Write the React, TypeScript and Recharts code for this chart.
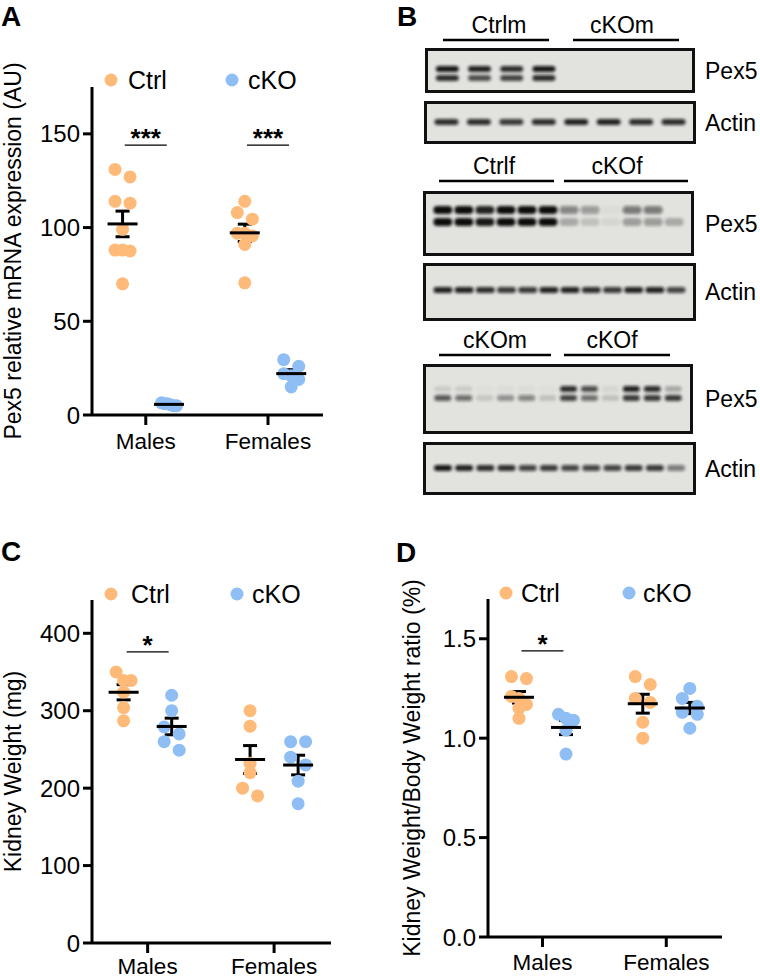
import React from 'react';
import { ScatterChart, Scatter, XAxis, YAxis, ErrorBar, Legend } from 'recharts';

const FONT = '"Liberation Sans", Arial, Helvetica, sans-serif';
const CTRL = '#FDBA78';
const CKO = '#8FBEF5';

const sexes = ['Males', 'Females'];
const genotypes = ['Ctrl', 'cKO'];

// A: Pex5 relative mRNA expression (AU)
const pex5MalesCtrl = [131, 127, 114, 113, 99, 88, 88, 87.5, 70];
const pex5MalesCko = [6.5, 6, 6, 5.5, 5, 5];
const pex5FemalesCtrl = [114, 108, 104.5, 97, 97, 95.5, 91, 70.5];
const pex5FemalesCko = [29.5, 26, 22, 21, 19, 15];
const pex5Ticks = [0, 50, 100, 150];
const pex5Sig = [
  { sex: 0, y: 144, label: '***' },
  { sex: 1, y: 144, label: '***' },
];

// C: kidney weight (mg)
const kwMalesCtrl = [350, 339, 339, 324, 304, 287];
const kwMalesCko = [320, 300, 279, 270, 260, 249];
const kwFemalesCtrl = [300, 280, 232, 220, 200, 190];
const kwFemalesCko = [260, 260, 240, 230, 209, 180];
const kwTicks = [0, 100, 200, 300, 400];
const kwSig = [{ sex: 0, y: 376, label: '*' }];

// D: kidney weight / body weight ratio (%)
const ratioMalesCtrl = [1.31, 1.3, 1.21, 1.2, 1.17, 1.15, 1.1];
const ratioMalesCko = [1.12, 1.1, 1.09, 1.04, 0.92];
const ratioFemalesCtrl = [1.31, 1.27, 1.2, 1.18, 1.08, 1.0];
const ratioFemalesCko = [1.25, 1.2, 1.16, 1.13, 1.12, 1.05];
const ratioTicks = [0, 0.5, 1.0, 1.5];
const ratioSig = [{ sex: 0, y: 1.439, label: '*' }];

// B: western blot band intensities (0 = none, 1 = saturated), per lane
const blot1Pex5Upper = [0.95, 0.9, 0.85, 0.95, 0, 0, 0, 0];
const blot1Pex5Lower = [0.85, 0.7, 0.75, 0.85, 0, 0, 0, 0];
const blot1Actin = [0.85, 0.85, 0.8, 0.85, 0.9, 0.9, 0.85, 0.85];
const blot2Pex5Upper = [1, 1, 0.9, 1, 1, 1, 0.45, 0.35, 0.03, 0.5, 0.5, 0];
const blot2Pex5Lower = [1, 1, 0.95, 1, 1, 1, 0.25, 0.15, 0.06, 0.3, 0.35, 0.25];
const blot2Actin = [0.9, 0.9, 0.85, 0.8, 0.8, 0.9, 0.9, 0.85, 0.8, 0.9, 0.9, 0.75];
const blot3Pex5Upper = [0.1, 0.1, 0.02, 0.03, 0.03, 0.02, 0.85, 0.7, 0.06, 0.9, 0.85, 0.25];
const blot3Pex5Lower = [0.65, 0.55, 0.12, 0.4, 0.45, 0.15, 0.75, 0.55, 0.15, 0.8, 0.8, 0.8];
const blot3Actin = [0.95, 0.9, 0.85, 0.85, 0.75, 0.8, 0.75, 0.75, 0.75, 0.8, 0.8, 0.5];

const X0 = -0.44;
const X1 = 1.45;
const GROUP_OFF = 0.19;
const DOT_R = 6.5;
const ROW_PX = 9;
const ROW_SPAN = 15;
const Y_W = 60;
const X_H = 40;

function mean(v: number[]) {
  return v.reduce((a, b) => a + b, 0) / v.length;
}
function sem(v: number[]) {
  const m = mean(v);
  const sd = Math.sqrt(v.reduce((a, b) => a + (b - m) * (b - m), 0) / (v.length - 1));
  return sd / Math.sqrt(v.length);
}

// simple row-binned swarm: points of similar height share a row and are spread sideways
function swarmOffsets(values: number[], pxPerUnit: number): number[] {
  const order = values.map((_, i) => i).sort((a, b) => values[b] - values[a]);
  const rows: number[][] = [];
  let rowStart = Infinity;
  for (const i of order) {
    const y = values[i] * pxPerUnit;
    if (!rows.length || rowStart - y > ROW_PX) {
      rows.push([i]);
      rowStart = y;
    } else rows[rows.length - 1].push(i);
  }
  const off = new Array(values.length).fill(0);
  rows.forEach((r) => {
    const step = r.length > 1 ? ROW_SPAN / (r.length - 1) : 0;
    r.forEach((i, k) => {
      off[i] = (k - (r.length - 1) / 2) * step;
    });
  });
  return off;
}

const Dot = (props: any) => <circle cx={props.cx} cy={props.cy} r={DOT_R} fill={props.fill} />;

const MeanLine = (props: any) => (
  <line x1={props.cx - 15} x2={props.cx + 15} y1={props.cy} y2={props.cy} stroke="#000" strokeWidth={3} />
);

const SigMark = (props: any) => (
  <g>
    <line x1={props.cx - 21} x2={props.cx + 21} y1={props.cy} y2={props.cy} stroke="#000" strokeWidth={1.4} />
    <text x={props.cx} y={props.cy + 2} textAnchor="middle" fontSize={26} fontWeight="bold" fill="#000">
      {props.payload.label}
    </text>
  </g>
);

interface DotPlotProps {
  data: number[][][];
  yMax: number;
  ticks: number[];
  decimals: number;
  yLabel: string;
  sig: { sex: number; y: number; label: string }[];
  left: number;
  top: number;
  width: number;
  height: number;
  // distances from the chart box edges to the plot area
  inset: { top: number; right: number; bottom: number; left: number };
  legendY: number;
  legendDots: number[];
  legendText: number[];
  labelX: number;
  xTickMargin: number;
}

function DotPlot(p: DotPlotProps) {
  const margin = {
    top: p.inset.top,
    right: p.inset.right,
    bottom: p.inset.bottom - X_H,
    left: p.inset.left - Y_W,
  };
  const plotH = p.height - p.inset.top - p.inset.bottom;
  const plotW = p.width - p.inset.left - p.inset.right;
  const pxPerY = plotH / p.yMax;
  const pxPerX = plotW / (X1 - X0);

  const points = genotypes.map((_, g) =>
    p.data.flatMap((bySex, s) => {
      const vals = bySex[g];
      const off = swarmOffsets(vals, pxPerY);
      return vals.map((v, i) => ({ x: s + (g === 0 ? -GROUP_OFF : GROUP_OFF) + off[i] / pxPerX, y: v }));
    })
  );
  const means = p.data.flatMap((bySex, s) =>
    bySex.map((vals, g) => ({ x: s + (g === 0 ? -GROUP_OFF : GROUP_OFF), y: mean(vals), sem: sem(vals) }))
  );
  const sigData = p.sig.map((d) => ({ x: d.sex, y: d.y, label: d.label }));

  const cy = p.inset.top + plotH / 2;
  const renderYLabel = () => (
    <text
      x={p.labelX}
      y={cy}
      transform={`rotate(-90 ${p.labelX} ${cy})`}
      textAnchor="middle"
      fontSize={23}
      fill="#000"
    >
      {p.yLabel}
    </text>
  );

  const legend = () => (
    <svg width={p.width} height={30} style={{ display: 'block', overflow: 'visible' }}>
      {genotypes.map((name, g) => (
        <g key={name}>
          <circle cx={p.legendDots[g]} cy={15} r={DOT_R} fill={g === 0 ? CTRL : CKO} />
          <text x={p.legendText[g]} y={24} fontSize={25} fill="#000" fontFamily={FONT}>
            {name}
          </text>
        </g>
      ))}
    </svg>
  );

  const axisLine = { stroke: '#000', strokeWidth: 3 };
  return (
    <div style={{ position: 'absolute', left: p.left, top: p.top }}>
      <ScatterChart width={p.width} height={p.height} margin={margin}>
        <XAxis
          type="number"
          dataKey="x"
          domain={[X0, X1]}
          ticks={[0, 1]}
          tickFormatter={(v: number) => sexes[v] ?? ''}
          allowDataOverflow
          height={X_H}
          axisLine={axisLine}
          tickLine={axisLine}
          tickSize={10}
          tickMargin={p.xTickMargin}
          tick={{ fontSize: 22.5, fill: '#000' }}
        />
        <YAxis
          type="number"
          dataKey="y"
          domain={[0, p.yMax]}
          ticks={p.ticks}
          allowDataOverflow
          width={Y_W}
          tickFormatter={(v: number) => v.toFixed(p.decimals)}
          axisLine={axisLine}
          tickLine={axisLine}
          tickSize={9}
          tickMargin={3}
          tick={{ fontSize: 24, fill: '#000' }}
          label={renderYLabel}
        />
        <Legend
          layout="horizontal"
          verticalAlign="middle"
          align="center"
          wrapperStyle={{ left: 0, top: p.legendY - 15, width: p.width, height: 30 }}
          content={legend}
        />
        <Scatter name="Ctrl" data={points[0]} fill={CTRL} shape={Dot} isAnimationActive={false} />
        <Scatter name="cKO" data={points[1]} fill={CKO} shape={Dot} isAnimationActive={false} />
        <Scatter name="mean" data={means} shape={MeanLine} legendType="none" isAnimationActive={false}>
          <ErrorBar dataKey="sem" direction="y" width={7} stroke="#000" strokeWidth={3} isAnimationActive={false} />
        </Scatter>
        <Scatter name="sig" data={sigData} shape={SigMark} legendType="none" isAnimationActive={false} />
      </ScatterChart>
    </div>
  );
}

interface BlotProps {
  x: number;
  y: number;
  w: number;
  h: number;
  rows: number[][];
  rowY: number[];
  bandW: number;
  bandH: number;
  pad: number;
  label: string;
}

function Blot(b: BlotProps) {
  const iw = b.w - 6;
  const ih = b.h - 6;
  const n = b.rows[0].length;
  const Band = (props: any) => (
    <rect
      x={props.cx - b.bandW / 2}
      y={props.cy - b.bandH / 2}
      width={b.bandW}
      height={b.bandH}
      rx={b.bandH / 2}
      fill="#111"
      fillOpacity={props.payload.v}
      filter="url(#bandBlur)"
    />
  );
  return (
    <>
      <div
        style={{
          position: 'absolute',
          left: b.x,
          top: b.y,
          width: iw,
          height: ih,
          border: '3px solid #111',
          background: '#E2E3DF',
        }}
      >
        <ScatterChart width={iw} height={ih} margin={{ top: 0, right: 0, bottom: 0, left: 0 }}>
          <XAxis hide type="number" dataKey="lane" domain={[-b.pad, n - 1 + b.pad]} />
          <YAxis hide type="number" dataKey="row" domain={[0, ih]} reversed />
          {b.rows.map((r, k) => (
            <Scatter
              key={k}
              data={r.map((v, i) => ({ lane: i, row: b.rowY[k], v }))}
              shape={Band}
              isAnimationActive={false}
            />
          ))}
        </ScatterChart>
      </div>
      <div
        style={{
          position: 'absolute',
          left: 705,
          top: b.y + b.h / 2 - 14,
          fontSize: 23,
          lineHeight: '28px',
        }}
      >
        {b.label}
      </div>
    </>
  );
}

const blotGroups = [
  { text: 'Ctrlm', cx: 499, base: 33, x1: 443, x2: 549, ly: 40 },
  { text: 'cKOm', cx: 622, base: 33, x1: 573, x2: 679, ly: 40 },
  { text: 'Ctrlf', cx: 494, base: 174, x1: 439, x2: 554, ly: 181 },
  { text: 'cKOf', cx: 617, base: 174, x1: 564, x2: 688, ly: 181 },
  { text: 'cKOm', cx: 495, base: 348, x1: 439, x2: 551, ly: 355 },
  { text: 'cKOf', cx: 612, base: 348, x1: 564, x2: 670, ly: 355 },
];

const panelLetters = [
  { t: 'A', x: 1, y: 26 },
  { t: 'B', x: 397, y: 26 },
  { t: 'C', x: 1, y: 561 },
  { t: 'D', x: 396, y: 562 },
];

export default function App() {
  return (
    <div
      style={{
        position: 'absolute',
        left: 0,
        top: 0,
        width: 760,
        height: 979,
        background: '#fff',
        fontFamily: FONT,
        color: '#000',
        overflow: 'hidden',
      }}
    >
      <svg width={760} height={979} style={{ position: 'absolute', left: 0, top: 0 }}>
        <defs>
          <filter id="bandBlur" x="-30%" y="-150%" width="160%" height="400%">
            <feGaussianBlur stdDeviation="1.4" />
          </filter>
        </defs>
        {panelLetters.map((l) => (
          <text key={l.t} x={l.x} y={l.y} fontSize={28} fontWeight="bold" fill="#000">
            {l.t}
          </text>
        ))}
        {blotGroups.map((g, i) => (
          <g key={i}>
            <text x={g.cx} y={g.base} textAnchor="middle" fontSize={23} fill="#000">
              {g.text}
            </text>
            <line x1={g.x1} x2={g.x2} y1={g.ly} y2={g.ly} stroke="#000" strokeWidth={2.5} />
          </g>
        ))}
      </svg>

      <DotPlot
        data={[
          [pex5MalesCtrl, pex5MalesCko],
          [pex5FemalesCtrl, pex5FemalesCko],
        ]}
        yMax={175}
        ticks={pex5Ticks}
        decimals={0}
        yLabel="Pex5 relative mRNA expression (AU)"
        sig={pex5Sig}
        left={0}
        top={40}
        width={340}
        height={420}
        inset={{ top: 47, right: 17, bottom: 45, left: 92 }}
        legendY={40}
        legendDots={[111, 232]}
        legendText={[128, 248]}
        labelX={21}
        xTickMargin={8}
      />

      <Blot x={425} y={48} w={270} h={45} rows={[blot1Pex5Upper, blot1Pex5Lower]} rowY={[18, 27]} bandW={23} bandH={6} pad={0.6} label="Pex5" />
      <Blot x={424} y={101} w={272} h={43} rows={[blot1Actin]} rowY={[18]} bandW={24} bandH={6} pad={0.6} label="Actin" />
      <Blot x={423} y={191} w={271} h={65} rows={[blot2Pex5Upper, blot2Pex5Lower]} rowY={[16, 28]} bandW={19} bandH={8} pad={0.8} label="Pex5" />
      <Blot x={423} y={263} w={273} h={58} rows={[blot2Actin]} rowY={[24]} bandW={19} bandH={6} pad={0.8} label="Actin" />
      <Blot x={423} y={364} w={270} h={70} rows={[blot3Pex5Upper, blot3Pex5Lower]} rowY={[22, 31]} bandW={17} bandH={6} pad={0.8} label="Pex5" />
      <Blot x={423} y={442} w={273} h={53} rows={[blot3Actin]} rowY={[23]} bandW={18} bandH={6} pad={0.8} label="Actin" />

      <DotPlot
        data={[
          [kwMalesCtrl, kwMalesCko],
          [kwFemalesCtrl, kwFemalesCko],
        ]}
        yMax={443}
        ticks={kwTicks}
        decimals={0}
        yLabel="Kidney Weight (mg)"
        sig={kwSig}
        left={0}
        top={560}
        width={345}
        height={419}
        inset={{ top: 40, right: 14, bottom: 36, left: 92 }}
        legendY={34}
        legendDots={[111, 237]}
        legendText={[131, 252]}
        labelX={21}
        xTickMargin={5}
      />

      <DotPlot
        data={[
          [ratioMalesCtrl, ratioMalesCko],
          [ratioFemalesCtrl, ratioFemalesCko],
        ]}
        yMax={1.7}
        ticks={ratioTicks}
        decimals={1}
        yLabel="Kidney Weight/Body Weight ratio (%)"
        sig={ratioSig}
        left={380}
        top={560}
        width={380}
        height={419}
        inset={{ top: 39, right: 38, bottom: 42, left: 108 }}
        legendY={33}
        legendDots={[126, 249]}
        legendText={[141, 263]}
        labelX={40}
        xTickMargin={7}
      />
    </div>
  );
}
